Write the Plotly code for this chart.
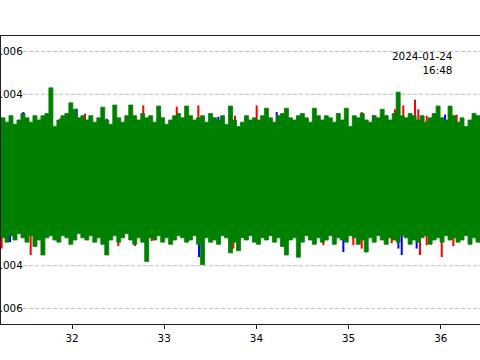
import numpy as np
import plotly.graph_objects as go

# ---------------- data (amplitudes in units of 1e-4) ----------------
T_START = 31.23
T_END = 36.425
AMP_UNIT = 1e-4

green_upper = [
    29, 27, 30, 26, 28, 31, 29, 27, 30, 28,
    30, 31, 43, 25, 28, 30, 31, 36, 33, 29,
    30, 28, 30, 27, 29, 34, 28, 26, 35, 29,
    27, 30, 35, 30, 28, 31, 29, 30, 27, 34.5,
    29, 26, 28, 30, 31, 29, 34.5, 30, 28, 29,
    30, 27, 31, 29, 28, 30, 26, 34.5, 28, 25,
    27, 30, 28, 29, 28, 30, 33.5, 29, 27, 30,
    31, 33.5, 29, 28, 30, 31, 29, 27, 33.5, 30,
    28, 30, 29, 27, 31, 28, 33.5, 25, 30, 29,
    31, 28, 27, 30, 29, 33, 30, 28, 31, 41,
    30, 29, 31, 30, 28, 30, 27, 29, 31, 34.5,
    29, 28, 34.5, 30, 27, 29, 25, 28, 31, 30,
]
green_lower = [
    -27, -29, -26, -28, -25, -27, -29, -26, -31, -28,
    -35, -27, -26, -28, -29, -26, -27, -30, -28, -25,
    -27, -28, -26, -29, -27, -30, -35, -28, -26, -29,
    -27, -25, -28, -30, -27, -29, -38, -27, -28, -26,
    -29, -27, -30, -28, -26, -27, -29, -28, -26, -30,
    -39.5, -27, -29, -28, -30, -26, -27, -34, -29, -33,
    -27, -28, -26, -29, -30, -27, -28, -26, -29, -27,
    -31, -35, -28, -27, -36, -29, -26, -28, -30, -27,
    -29, -28, -26, -30, -27, -28, -29, -26, -27, -30,
    -28, -33.6, -27, -29, -26, -28, -30, -27, -28, -29,
    -26, -27, -30, -28, -29, -27, -26, -30, -28, -27,
    -29, -26, -28, -27, -29, -28, -26, -30, -27, -29,
]

red_up_t = [31.870, 32.141, 32.647, 32.773, 32.954, 33.136, 33.370, 33.768,
            34.003, 35.142, 35.503, 35.593, 35.720, 35.756, 35.847, 36.172]
red_up_v = [28.6, 31, 33.6, 34.8, 31.3, 34.2, 34.8, 30,
            34.8, 31.7, 33, 34.8, 37.5, 33, 30, 30.5]
blue_up_t = [31.472, 32.051, 32.376, 33.587, 34.220, 35.268, 35.413, 36.046]
blue_up_v = [31.7, 33.3, 28.6, 29.5, 31.7, 30.2, 30.2, 30.5]

red_dn_t = [31.237, 31.552, 32.502, 32.683, 32.864, 33.750, 34.726, 35.051,
            35.142, 35.467, 35.774, 35.847, 36.010, 36.136]
red_dn_v = [-32, -35, -30.8, -30.8, -28.5, -32, -30.4, -30.4,
            -32, -29.5, -35, -30.4, -36, -30.8]
blue_dn_t = [31.328, 33.378, 33.876, 34.617, 34.943, 35.540, 35.576, 35.738]
blue_dn_v = [-29, -36, -28, -27.3, -33.6, -32, -35, -32]

y_tickvals = [-0.006, -0.004, 0.004, 0.006]
y_ticktext = ["\u22120.006", "\u22120.004", "0.004", "0.006"]
x_tickvals = [32, 33, 34, 35, 36]
stamp = "2024-01-24<br>16:48"

# ---------------- figure ----------------
fig = go.Figure()

def add_bars(t, v, color):
    fig.add_trace(go.Bar(x=t, y=[a * AMP_UNIT for a in v], width=0.022,
                         marker=dict(color=color, line=dict(width=0)),
                         hoverinfo="skip"))

add_bars(red_up_t, red_up_v, "#ff0000")
add_bars(red_dn_t, red_dn_v, "#ff0000")
add_bars(blue_up_t, blue_up_v, "#0000ff")
add_bars(blue_dn_t, blue_dn_v, "#0000ff")

edges = np.linspace(T_START, T_END, len(green_upper) + 1)
for env in (green_upper, green_lower):
    yy = [a * AMP_UNIT for a in env] + [env[-1] * AMP_UNIT]
    fig.add_trace(go.Scatter(x=edges, y=yy, mode="lines",
                             line=dict(color="#008000", width=0.8, shape="hv"),
                             fill="tozeroy", fillcolor="#008000",
                             hoverinfo="skip"))

for v in y_tickvals:
    fig.add_shape(type="line", xref="paper", x0=0.046, x1=1, yref="y",
                  y0=v, y1=v, layer="below",
                  line=dict(color="#b0b0b0", width=0.8, dash="4px,2px"))

fig.add_annotation(text=stamp, xref="paper", yref="paper", x=0.947, y=0.96,
                   xanchor="right", yanchor="top", align="right",
                   showarrow=False,
                   font=dict(family="DejaVu Sans", size=10.4, color="#000000"))

fig.update_layout(
    width=480, height=360,
    margin=dict(l=1, r=0, t=36, b=36, pad=0),
    paper_bgcolor="white", plot_bgcolor="white",
    showlegend=False, barmode="overlay",
    font=dict(family="DejaVu Sans", size=10, color="#000000"),
)
fig.update_xaxes(range=[T_START, T_END], tickvals=x_tickvals,
                 showgrid=False, zeroline=False,
                 showline=True, linecolor="#222222", linewidth=1.2, mirror=True,
                 ticks="outside", ticklen=4, tickwidth=0.9, tickcolor="#222222",
                 tickfont=dict(family="DejaVu Sans", size=10.4, color="#000000"),
                 automargin=False)
fig.update_yaxes(range=[-0.00672, 0.00672], tickvals=y_tickvals, ticktext=y_ticktext,
                 showgrid=False, zeroline=False,
                 showline=True, linecolor="#222222", linewidth=1.2, mirror=False,
                 ticks="", ticklabelstandoff=-25,
                 tickfont=dict(family="DejaVu Sans", size=10.4, color="#000000"),
                 automargin=False)

fig.write_html("out.html")
